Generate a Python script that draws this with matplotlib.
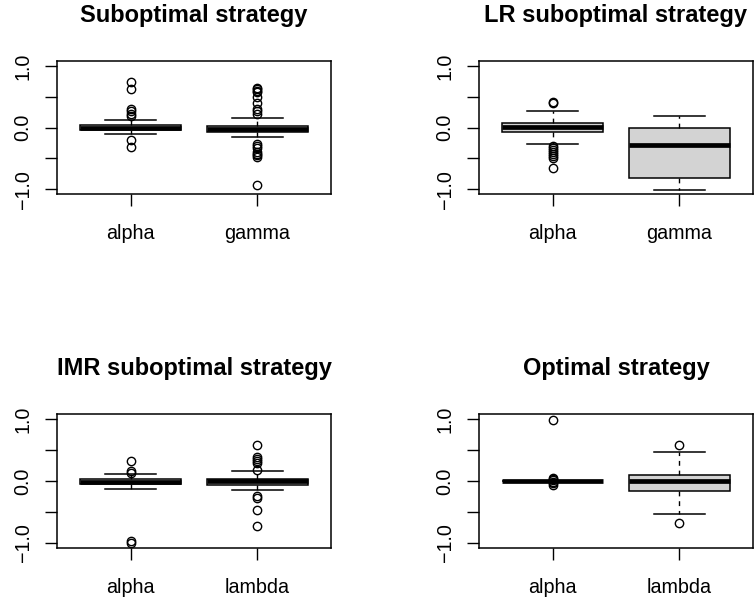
import matplotlib.pyplot as plt
import numpy as np

plt.rcParams['font.family'] = ['Liberation Sans', 'DejaVu Sans']

titles = ['Suboptimal strategy', 'LR suboptimal strategy',
          'IMR suboptimal strategy', 'Optimal strategy']
box_labels = [['alpha', 'gamma'], ['alpha', 'gamma'],
              ['alpha', 'lambda'], ['alpha', 'lambda']]

ytick_values = [-1.0, -0.5, 0.0, 0.5, 1.0]
ytick_labels = ['\u22121.0', '', '0.0', '', '1.0']

# five numbers per box: lower whisker, q1, median, q3, upper whisker
sub_alpha = [-0.11, -0.04, 0.0, 0.045, 0.127]
sub_gamma = [-0.15, -0.08, -0.03, 0.025, 0.16]
lr_alpha = [-0.27, -0.078, 0.013, 0.068, 0.27]
lr_gamma = [-1.02, -0.815, -0.285, 0.0, 0.19]
imr_alpha = [-0.13, -0.05, -0.01, 0.03, 0.12]
imr_lambda = [-0.15, -0.06, 0.0, 0.04, 0.16]
opt_alpha = [0.0, 0.0, 0.0, 0.0, 0.0]
opt_lambda = [-0.53, -0.16, -0.005, 0.10, 0.46]

sub_alpha_out = [0.745, 0.625, 0.30, 0.26, 0.22, 0.18, -0.21, -0.31]
sub_gamma_out = [0.64, 0.62, 0.60, 0.57, 0.50, 0.39, 0.30, 0.26, 0.22,
                 -0.26, -0.30, -0.34, -0.39, -0.43, -0.45, -0.48, -0.93]
lr_alpha_out = [0.41, 0.40, -0.30, -0.33, -0.36, -0.39, -0.43, -0.46,
                -0.49, -0.66]
lr_gamma_out = []
imr_alpha_out = [0.32, 0.16, 0.13, -0.97, -1.0]
imr_lambda_out = [0.58, 0.39, 0.36, 0.32, 0.29, 0.18,
                  -0.24, -0.28, -0.46, -0.73]
opt_alpha_out = [0.98, 0.05, 0.03, 0.01, -0.02, -0.04, -0.06]
opt_lambda_out = [0.58, -0.67]

panels = [
  [(sub_alpha, sub_alpha_out), (sub_gamma, sub_gamma_out)],
  [(lr_alpha, lr_alpha_out), (lr_gamma, lr_gamma_out)],
  [(imr_alpha, imr_alpha_out), (imr_lambda, imr_lambda_out)],
  [(opt_alpha, opt_alpha_out), (opt_lambda, opt_lambda_out)],
]

W, H = 754, 600
# axes boxes in pixels: left, top, right, bottom
frames = [(57, 61, 331, 194), (479, 61, 753, 194),
          (57, 414, 331, 548), (479, 414, 753, 548)]

fig = plt.figure(figsize=(W / 100, H / 100), dpi=100)

for i, (l, t, r, b) in enumerate(frames):
  ax = fig.add_axes([l / W, 1 - b / H, (r - l) / W, (b - t) / H])
  stats = []
  for (five, out), name in zip(panels[i], box_labels[i]):
    stats.append(dict(whislo=five[0], q1=five[1], med=five[2], q3=five[3],
                      whishi=five[4], fliers=np.array(out), label=name))
  ax.bxp(stats, positions=[1, 2], widths=0.8, capwidths=0.4,
         patch_artist=True,
         boxprops=dict(facecolor='#d3d3d3', edgecolor='black', linewidth=1.1),
         medianprops=dict(color='black', linewidth=3.4, solid_capstyle='butt'),
         whiskerprops=dict(color='black', linewidth=1.0, linestyle=(0, (3.5, 3.5))),
         capprops=dict(color='black', linewidth=1.1),
         flierprops=dict(marker='o', markerfacecolor='none',
                         markeredgecolor='black', markersize=6,
                         markeredgewidth=1.0))
  ax.set_xlim(0.42, 2.58)
  ax.set_ylim(-1.08, 1.08)
  ax.set_yticks(ytick_values)
  ax.set_yticklabels(ytick_labels, rotation=90, va='center')
  ax.set_xticks([1, 2])
  ax.set_xticklabels(box_labels[i])
  ax.tick_params(axis='both', direction='out', length=8.5, width=1.0,
                 labelsize=14.2)
  ax.tick_params(axis='y', pad=9)
  ax.tick_params(axis='x', pad=13)
  for s in ax.spines.values():
    s.set_linewidth(1.1)
  ax.set_title(titles[i], fontsize=17, fontweight='bold', pad=28)

fig.savefig('out.png', dpi=100)
